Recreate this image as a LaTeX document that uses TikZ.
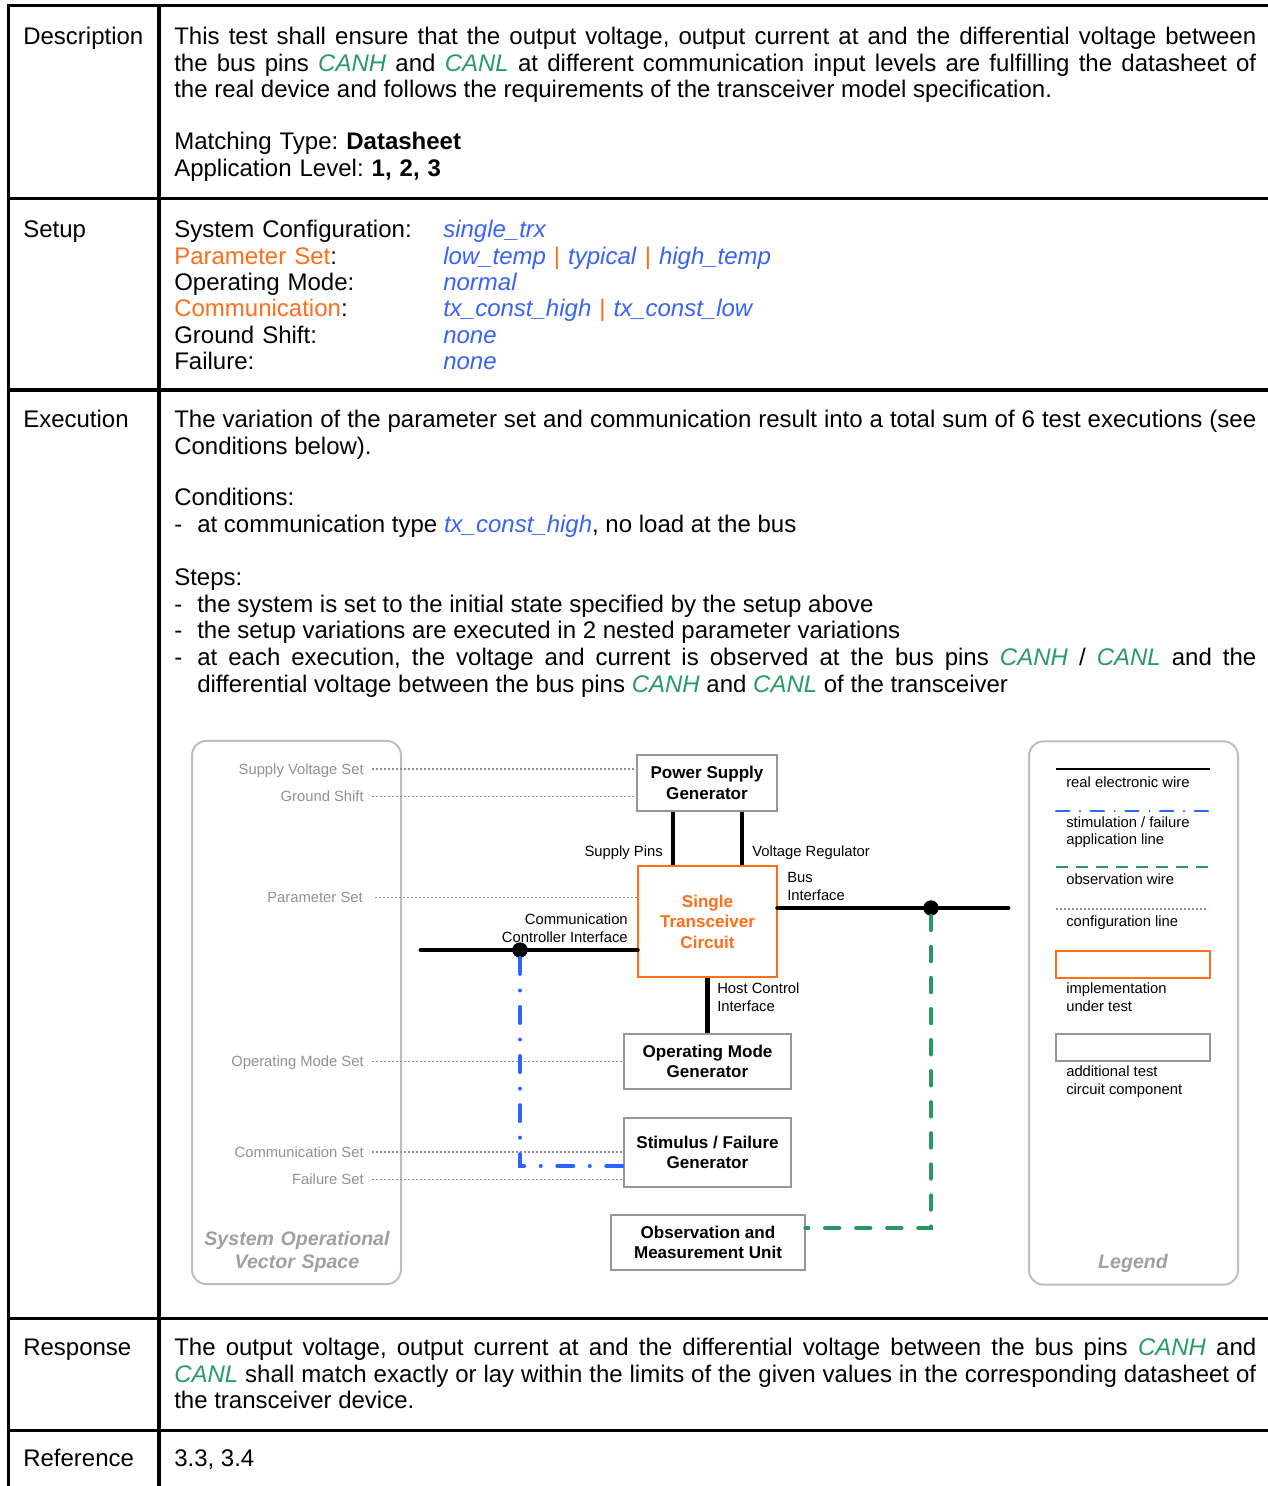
\documentclass[tikz,border=0pt]{standalone}
\usepackage{fontspec}
\setmainfont{Liberation Sans}
\usetikzlibrary{calc}

\definecolor{valblue}{RGB}{55,100,245}
\definecolor{orgtx}{RGB}{255,110,25}
\definecolor{pingreen}{RGB}{40,155,100}
\definecolor{lineblue}{RGB}{45,100,250}
\definecolor{linegreen}{RGB}{40,150,95}
\definecolor{cfggray}{RGB}{145,145,145}
\definecolor{boxgray}{RGB}{150,150,150}
\definecolor{panelgray}{RGB}{190,190,190}
\definecolor{titlegray}{RGB}{160,160,160}

\setlength\parindent{0pt}
\frenchspacing
\tolerance=10000
\hbadness=10000
\hyphenpenalty=10000

\newcommand\valtxt[1]{\textcolor{valblue}{\textit{#1}}}
\newcommand\pintxt[1]{\textcolor{pingreen}{\textit{#1}}}
\newcommand\orgtxt[1]{\textcolor{orgtx}{#1}}
\newcommand\mainsz{\fontsize{18}{19.8}\selectfont}
\newcommand\smallsz{\fontsize{11.1}{13.3}\selectfont}
\newcommand\boxsz{\fontsize{12.8}{15.4}\selectfont}
\newcommand\titlesz{\fontsize{14.7}{17.25}\selectfont}
\newcommand\fst{\rule{0pt}{14pt}}

\tikzset{
  tablerule/.style={line width=2.6pt},
  lbl/.style={anchor=base west, inner sep=0pt, font=\mainsz},
  para/.style={anchor=north west, inner sep=0pt, font=\mainsz, align=justify, text width=811.5pt},
  cfglbl/.style={anchor=east, inner sep=0pt, font=\smallsz, text=cfggray, text height=8pt, text depth=0.4pt},
  cfg/.style={draw=cfggray, line width=0.8pt, dash pattern=on 1.8pt off 1.2pt},
  tbox/.style={draw=boxgray, line width=0.9pt, fill=white, align=center, inner sep=0pt, font=\boxsz\bfseries},
  iut/.style={tbox, draw=orgtx, text=orgtx},
  sl/.style={inner sep=0pt, font=\smallsz},
  panel/.style={draw=panelgray, line width=1.5pt, rounded corners=11pt, minimum width=156.75pt, minimum height=407.5pt, inner sep=0pt},
  ptitle/.style={font=\titlesz\bfseries\itshape, text=titlegray, inner sep=0pt, align=center},
  wire/.style={line width=3.6pt},
  freewire/.style={wire, line cap=round},
  stim/.style={draw=lineblue, line width=3pt, line cap=round, dash pattern=on 12pt off 12.4pt on 0pt off 12.4pt},
  obs/.style={draw=linegreen, line width=3.3pt, line cap=round, dash pattern=on 10.5pt off 12.8pt},
  junction/.style={circle, fill=black, minimum size=11.5pt, inner sep=0pt},
  keywire/.style={line width=1.5pt},
  keystim/.style={draw=lineblue, line width=1.6pt, line cap=round, dash pattern=on 10pt off 8pt on 0pt off 8pt},
  keyobs/.style={draw=linegreen, line width=2.1pt, dash pattern=on 9pt off 6pt},
  keybox/.style={draw=boxgray, line width=0.9pt, minimum width=115.5pt, minimum height=20.25pt, inner sep=0pt},
}

\begin{document}
\begin{tikzpicture}[x=0.75pt, y=-0.75pt]
\useasboundingbox (0,0) rectangle (1268,1486);
\fill[white] (0,0) rectangle (1268,1486);

% ---------- table frame ----------
\draw[line width=2.25pt] (8,4) -- (8,1486);
\draw[line width=3pt] (159,4) -- (159,1486);
\foreach \yy in {5.5,198.5,390,1318.5,1430.5}
  \draw[tablerule] (6.5,\yy) -- (1268,\yy);

% ---------- Description ----------
\node[lbl] (hDesc) at (23,44.5) {Description};
\node[para] (descText) at (174,25.83) {\fst This test shall ensure that the output voltage, output current at and the differential voltage between\linebreak
the bus pins \pintxt{CANH} and \pintxt{CANL} at different communication input levels are fulfilling the datasheet of\linebreak
the real device and follows the requirements of the transceiver model specification.};
\node[para, align=left] (descType) at (174,130.83) {\fst Matching Type: \textbf{Datasheet}\\
Application Level: \textbf{1, 2, 3}};

% ---------- Setup ----------
\node[lbl] (hSetup) at (23,237.5) {Setup};
\node[para, align=left, text width=260pt] (setupKeys) at (174,218.83) {\fst System Configuration:\\
\orgtxt{Parameter Set}:\\
Operating Mode:\\
\orgtxt{Communication}:\\
Ground Shift:\\
Failure:};
\node[para, align=left, text width=580pt] (setupVals) at (443,218.83) {\fst \valtxt{single\_trx}\\
\valtxt{low\_temp} \orgtxt{|} \valtxt{typical} \orgtxt{|} \valtxt{high\_temp}\\
\valtxt{normal}\\
\valtxt{tx\_const\_high} \orgtxt{|} \valtxt{tx\_const\_low}\\
\valtxt{none}\\
\valtxt{none}};

% ---------- Execution ----------
\node[lbl] (hExec) at (23,427.5) {Execution};
\node[para] (execText) at (174,408.83) {\fst The variation of the parameter set and communication result into a total sum of 6 test executions (see\linebreak
Conditions below).};
\node[lbl] (condHead) at (174,505.5) {Conditions:};
\node[lbl] (condDash) at (174,532.5) {-};
\node[lbl] (condItem) at (197,532.5) {at communication type \valtxt{tx\_const\_high}, no load at the bus};
\node[lbl] (stepHead) at (174,585.5) {Steps:};
\node[lbl] (stepDashA) at (174,612.5) {-};
\node[lbl] (stepDashB) at (174,638.5) {-};
\node[lbl] (stepDashC) at (174,665.5) {-};
\node[lbl] (stepA) at (197,612.5) {the system is set to the initial state specified by the setup above};
\node[lbl] (stepB) at (197,638.5) {the setup variations are executed in 2 nested parameter variations};
\node[para, text width=794.25pt] (stepC) at (197,646.83) {\fst at each execution, the voltage and current is observed at the bus pins \pintxt{CANH} / \pintxt{CANL} and the\linebreak
differential voltage between the bus pins \pintxt{CANH} and \pintxt{CANL} of the transceiver};

% ---------- test bench diagram ----------
\node[panel] (sovs) at (296.5,1012.5) {};
\node[panel] (legend) at (1133.5,1013) {};
\node[ptitle, text width=150pt, anchor=north] (sovsTitle) at (297,1229) {\rule{0pt}{12pt}System Operational\\Vector Space};
\node[ptitle, anchor=base] (legendTitle) at (1133,1268) {Legend};

% test circuit blocks
\node[tbox, minimum width=105pt, minimum height=42pt] (psg) at (707,783) {Power Supply\\Generator};
\node[iut, minimum width=104.25pt, minimum height=83.25pt] (stc) at (707.5,921.5) {Single\\Transceiver\\Circuit};
\node[tbox, minimum width=125.25pt, minimum height=41.25pt] (omg) at (707.5,1061.5) {Operating Mode\\Generator};
\node[tbox, minimum width=125.25pt, minimum height=51.75pt] (sfg) at (707.5,1152.5) {Stimulus / Failure\\Generator};
\node[tbox, minimum width=145.5pt, minimum height=41.25pt] (omu) at (708,1242.5) {Observation and\\Measurement Unit};

% configuration vector labels
\node[cfglbl] (cSupply) at (364,769) {Supply Voltage Set};
\node[cfglbl] (cGround) at (364,796.5) {Ground Shift};
\node[cfglbl] (cParam) at (363,897.5) {Parameter Set};
\node[cfglbl] (cOpMode) at (364,1061.5) {Operating Mode Set};
\node[cfglbl] (cComm) at (364,1152) {Communication Set};
\node[cfglbl] (cFail) at (364,1179.5) {Failure Set};

\draw[cfg] ([xshift=6pt]cSupply.east) -- (cSupply.east -| psg.west);
\draw[cfg] ([xshift=6pt]cGround.east) -- (cGround.east -| psg.west);
\draw[cfg] ([xshift=9pt]cParam.east) -- (cParam.east -| stc.west);
\draw[cfg] ([xshift=6pt]cOpMode.east) -- (cOpMode.east -| omg.west);
\draw[cfg] ([xshift=6pt]cComm.east) -- (cComm.east -| sfg.west);
\draw[cfg] ([xshift=6pt]cFail.east) -- (cFail.east -| sfg.west);

% interface labels
\node[sl, anchor=base east] (tSupplyPins) at (663,856) {Supply Pins};
\node[sl, anchor=base west] (tVoltReg) at (752,856) {Voltage Regulator};
\node[sl, anchor=base west] (tBusA) at (787,882) {Bus};
\node[sl, anchor=base west] (tBusB) at (787,900) {Interface};
\node[sl, anchor=base east] (tCciA) at (628,924) {Communication};
\node[sl, anchor=base east] (tCciB) at (628,942) {Controller Interface};
\node[sl, anchor=base west] (tHostA) at (717,993) {Host Control};
\node[sl, anchor=base west] (tHostB) at (717,1011) {Interface};

% junctions and wire ends
\node[junction] (cciDot) at (520,950) {};
\node[junction] (busDot) at (931,908) {};
\coordinate (cciEnd) at (421,950);
\coordinate (busEnd) at (1008,908);
\coordinate (pinSupply) at ($(psg.south)+(-34,0)$);
\coordinate (pinReg) at ($(psg.south)+(35,0)$);

% real electronic wires
\draw[wire] (pinSupply) -- (pinSupply |- stc.north);
\draw[wire] (pinReg) -- (pinReg |- stc.north);
\draw[freewire] (cciEnd) -- (cciEnd -| stc.west);
\draw[freewire] (busEnd -| stc.east) -- (busEnd);
\draw[wire] (stc.south) -- (omg.north);

% stimulation and observation paths
\draw[stim] (cciDot.south) |- ($(sfg.west)+(0,13.5)$);
\draw[obs] (busDot.south) |- ($(omu.east)+(0,-14.5)$);

% legend entries
\coordinate (kWireL) at (1056,769);  \coordinate (kWireR) at (1210,769);
\coordinate (kStimL) at (1056,811);  \coordinate (kStimR) at (1210,811);
\coordinate (kObsL) at (1056,867);   \coordinate (kObsR) at (1210,867);
\coordinate (kCfgL) at (1056,909);   \coordinate (kCfgR) at (1208,909);
\draw[keywire] (kWireL) -- (kWireR);
\draw[keystim] (kStimL) -- (kStimR);
\draw[keyobs] (kObsL) -- (kObsR);
\draw[cfg] (kCfgL) -- (kCfgR);
\node[keybox, draw=orgtx] (kIut) at (1133,964.5) {};
\node[keybox] (kComp) at (1133,1047.5) {};

\node[sl, anchor=base west] (kTxtA) at (1066,787) {real electronic wire};
\node[sl, anchor=base west] (kTxtB) at (1066,827) {stimulation / failure};
\node[sl, anchor=base west] (kTxtC) at (1066,844) {application line};
\node[sl, anchor=base west] (kTxtD) at (1066,884) {observation wire};
\node[sl, anchor=base west] (kTxtE) at (1066,926) {configuration line};
\node[sl, anchor=base west] (kTxtF) at (1066,993) {implementation};
\node[sl, anchor=base west] (kTxtG) at (1066,1011) {under test};
\node[sl, anchor=base west] (kTxtH) at (1066,1076) {additional test};
\node[sl, anchor=base west] (kTxtI) at (1066,1094) {circuit component};

% ---------- Response / Reference ----------
\node[lbl] (hResp) at (23,1355.5) {Response};
\node[para] (respText) at (174,1336.83) {\fst The output voltage, output current at and the differential voltage between the bus pins \pintxt{CANH} and\linebreak
\pintxt{CANL} shall match exactly or lay within the limits of the given values in the corresponding datasheet of\linebreak
the transceiver device.};
\node[lbl] (hRef) at (23,1466.5) {Reference};
\node[lbl] (refVal) at (174,1466.5) {3.3, 3.4};
\end{tikzpicture}
\end{document}
